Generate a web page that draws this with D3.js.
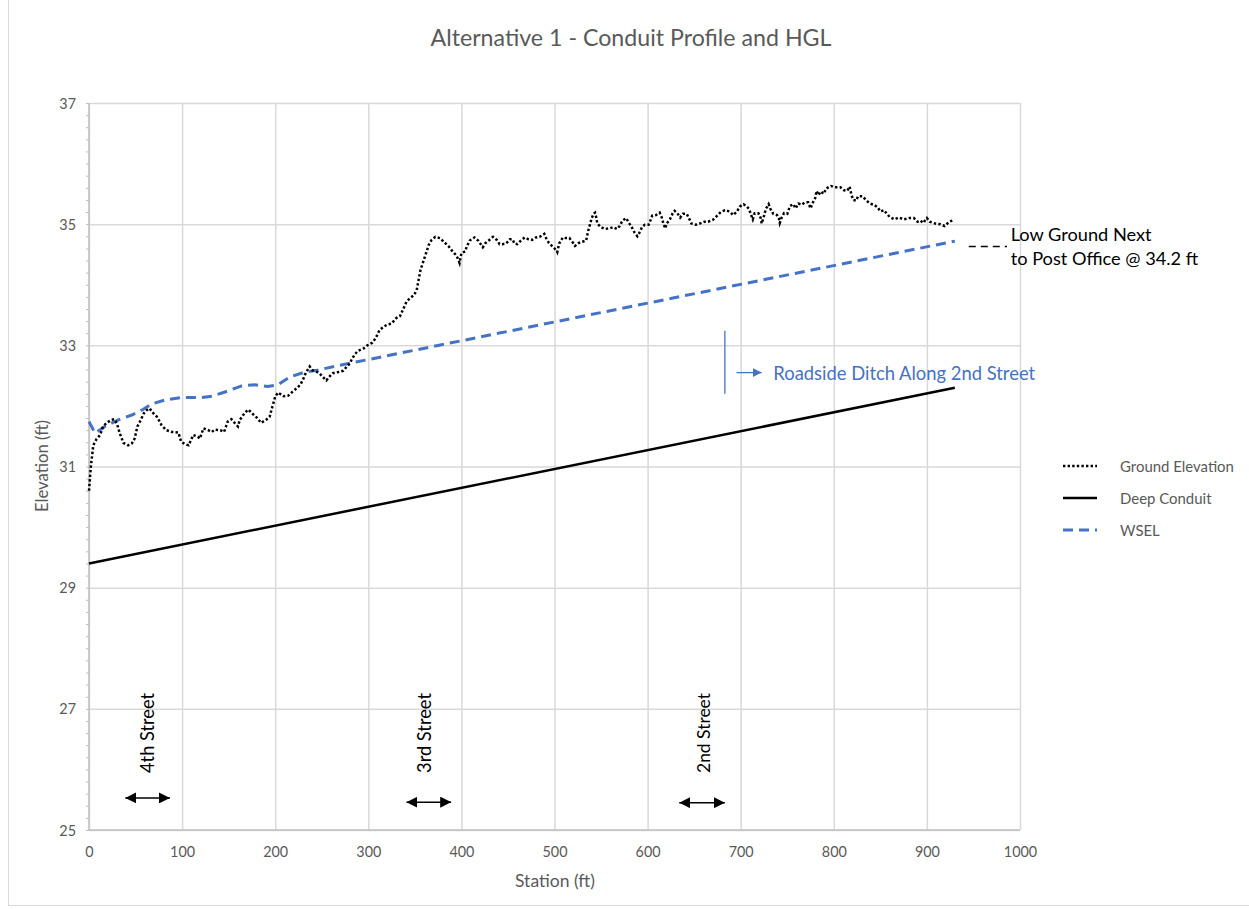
<!DOCTYPE html>
<html><head><meta charset="utf-8">
<script src="https://cdn.jsdelivr.net/npm/d3@7"></script>
<style>body{margin:0;background:#fff} svg{display:block} text{font-family:Lato,"Open Sans","Liberation Sans",sans-serif}</style>
</head><body><svg id="c" width="1249" height="909"></svg>
<script>
// ---------------- DATA ----------------
const groundStation = [0,2,4.6,8,12,15,19,24,27,30,33,37,42,46,49,52,56,59,62,65,69,73,78,83,89,96,99,103,107,110,112,117,119,123,128,132,135,141,145,149,153,157,160,162,167,171,175,180,185,191,194,197,200,203,209,214,219,223,227,230,233,237,240,245,248,251,255,258,262,268,273,277,280,283,286,289,295,299,304,308,312,316,320,325,330,334,337,341,345,349,352,354,356,359,362,365,368,372,377,381,386,390,393,396,398,400,404,406,409,414,418,423,426,430,434,438,441,444,448,452,455,457,460,464,468,472,476,480,484,489,491,494,498,502,503,505,509,512,516,520,522,526,530,534,536,538,540,542,543.5,545,546,550,554,559,563,567,570,573,577,580,583,586,589,592,594,597,601,603,605,609,613,615,617,619,620.5,624,627,629,632,635,638,642,645,647,652,656,661,665,670,674,678.5,683,688,692,696,699,703,706,709,711,713,715,719,721.5,722.5,724,727,730,732,735,739,741,742,744,746.5,750,753,756.5,759,762,765.5,769,772.5,775,777,780,781.5,783.5,786,789,792,797,801,807,811,814.5,817,819,821,824,826,831,835,839,843,847,850,854,857,860,865,870,875,881,886,890,893,896,900,903,909,914,919,924,929];
const groundElev = [30.6,31.0,31.35,31.45,31.52,31.66,31.72,31.77,31.78,31.71,31.55,31.39,31.35,31.38,31.46,31.66,31.78,31.88,31.93,31.96,31.88,31.82,31.68,31.6,31.57,31.56,31.41,31.37,31.35,31.45,31.52,31.49,31.46,31.63,31.6,31.57,31.61,31.6,31.57,31.74,31.78,31.71,31.66,31.77,31.88,31.94,31.88,31.81,31.72,31.78,31.82,31.99,32.15,32.22,32.16,32.17,32.24,32.29,32.35,32.44,32.55,32.65,32.59,32.56,32.53,32.48,32.42,32.48,32.54,32.56,32.58,32.65,32.70,32.79,32.86,32.91,32.95,33.0,33.04,33.12,33.25,33.30,33.34,33.36,33.45,33.48,33.58,33.72,33.78,33.83,33.91,34.08,34.24,34.38,34.52,34.66,34.74,34.79,34.77,34.71,34.64,34.56,34.51,34.44,34.36,34.52,34.55,34.64,34.73,34.78,34.73,34.62,34.69,34.74,34.79,34.74,34.67,34.67,34.68,34.75,34.75,34.68,34.67,34.73,34.78,34.75,34.74,34.78,34.79,34.84,34.77,34.69,34.63,34.57,34.54,34.68,34.78,34.77,34.77,34.69,34.64,34.69,34.71,34.73,34.88,34.99,35.10,35.17,35.19,35.10,35.01,34.95,34.92,34.93,34.95,34.92,34.97,35.06,35.10,35.02,34.95,34.86,34.80,34.88,34.95,34.99,34.99,35.06,35.14,35.15,35.19,35.12,35.01,34.93,35.01,35.08,35.18,35.22,35.18,35.11,35.17,35.17,35.08,35.01,34.99,35.01,35.04,35.04,35.07,35.13,35.20,35.23,35.21,35.15,35.21,35.29,35.33,35.30,35.25,35.16,35.08,35.18,35.18,35.10,35.01,35.08,35.25,35.33,35.25,35.17,35.15,35.10,35.02,35.11,35.18,35.17,35.30,35.33,35.26,35.34,35.32,35.36,35.36,35.26,35.34,35.43,35.55,35.48,35.54,35.50,35.59,35.63,35.61,35.61,35.56,35.55,35.62,35.48,35.40,35.39,35.46,35.46,35.39,35.34,35.32,35.28,35.21,35.23,35.17,35.12,35.08,35.11,35.08,35.10,35.10,35.04,35.06,35.02,35.10,35.04,35.01,35.00,34.97,35.04,35.07];
const conduitStation = [0, 930];
const conduitElev = [29.4, 32.3];
const wselStation = [0, 6.5, 17, 31.5, 46, 58, 67, 82, 99.5, 121, 132, 146, 164, 178, 192, 203, 216, 230, 245, 266, 930];
const wselElev = [31.74, 31.55, 31.66, 31.77, 31.85, 31.94, 32.03, 32.10, 32.14, 32.14, 32.16, 32.23, 32.33, 32.35, 32.32, 32.35, 32.48, 32.55, 32.59, 32.66, 34.72];
const xTicks = [0,100,200,300,400,500,600,700,800,900,1000];
const yTicks = [25,27,29,31,33,35,37];
const seriesNames = ["Ground Elevation", "Deep Conduit", "WSEL"];
const streetNames = ["4th Street", "3rd Street", "2nd Street"];
const streetLabelStation = [62, 360, 660];
const streetArrowFrom = [39, 341, 634];
const streetArrowTo = [87, 389, 683];
const streetArrowElev = [25.53, 25.46, 25.45];
const ditchText = "Roadside Ditch Along 2nd Street";
const ditchStation = 683, ditchTop = 33.24, ditchBottom = 32.20;
const ditchArrowFrom = 695.5, ditchArrowTo = 722.5, ditchArrowElev = 32.55, ditchTextStation = 735;
const lowGroundText = ["Low Ground Next", "to Post Office @ 34.2 ft"];
const lowGroundStation = [945, 986], lowGroundElev = 34.63, lowGroundTextStation = 990;
const titleText = "Alternative 1 - Conduit Profile and HGL";

// ---------------- CHART ----------------
const svg = d3.select("#c");
const BLUE = "#4472C4", GREY = "#595959", GRID = "#d9d9d9";
const x = d3.scaleLinear([0, 1000], [89, 1020]);
const y = d3.scaleLinear([25, 37], [830, 103]);

function fit(sel, w) {
  const cur = parseFloat(sel.attr("font-size"));
  const L = sel.node().getComputedTextLength();
  const s = cur * w / L;
  sel.attr("font-size", s);
  return s;
}

const defs = svg.append("defs");
function marker(id, color, size) {
  defs.append("marker").attr("id", id).attr("viewBox", "0 0 10 10")
    .attr("refX", 10).attr("refY", 5).attr("markerUnits", "userSpaceOnUse")
    .attr("markerWidth", size).attr("markerHeight", size)
    .attr("orient", "auto-start-reverse")
    .append("path").attr("d", "M0,0 L10,5 L0,10 z").attr("fill", color);
}
marker("ahK", "#000", 11);
marker("ahB", BLUE, 9);

// chart border
svg.append("rect").attr("x", 8.5).attr("y", -2).attr("width", 1245).attr("height", 907.5)
  .attr("fill", "none").attr("stroke", GRID).attr("stroke-width", 1);

// grid
const gx = svg.append("g").attr("transform", "translate(0,830)")
  .call(d3.axisBottom(x).tickValues(xTicks).tickSize(-(830 - 103)).tickFormat(""));
gx.select(".domain").remove();
gx.selectAll("line").attr("stroke", GRID).attr("stroke-width", 1.5);
const gy = svg.append("g").attr("transform", "translate(89,0)")
  .call(d3.axisLeft(y).tickValues(yTicks).tickSize(-(1020 - 89)).tickFormat(""));
gy.select(".domain").remove();
gy.selectAll("line").attr("stroke", GRID).attr("stroke-width", 1.5);

// minor y ticks
const my = svg.append("g").attr("transform", "translate(89,0)")
  .call(d3.axisLeft(y).tickValues(d3.range(25, 37.001, 0.2)).tickSize(3).tickFormat(""));
my.select(".domain").remove();
my.selectAll("line").attr("stroke", "#bfbfbf").attr("stroke-width", 1);

// axis lines
svg.append("line").attr("x1", 89).attr("x2", 89).attr("y1", 103).attr("y2", 830).attr("stroke", "#bfbfbf").attr("stroke-width", 1.5);
svg.append("line").attr("x1", 89).attr("x2", 1020).attr("y1", 830).attr("y2", 830).attr("stroke", "#bfbfbf").attr("stroke-width", 1.5);

// tick labels
const ax = svg.append("g").attr("transform", "translate(0,830)")
  .call(d3.axisBottom(x).tickValues(xTicks).tickSize(0).tickFormat(d3.format("d")));
ax.select(".domain").remove();
ax.selectAll("text").attr("y", 22).attr("dy", "0.35em").attr("fill", GREY)
  .attr("font-family", "Lato,'Open Sans',sans-serif").attr("font-size", 15);
const probe = ax.selectAll("text").filter(d => d === 100);
const tickSize = fit(probe, 25);
ax.selectAll("text").attr("font-size", tickSize);
const ay = svg.append("g").attr("transform", "translate(89,0)")
  .call(d3.axisLeft(y).tickValues(yTicks).tickSize(0).tickPadding(13).tickFormat(d3.format("d")));
ay.select(".domain").remove();
ay.selectAll("text").attr("fill", GREY).attr("font-family", "Lato,'Open Sans',sans-serif")
  .attr("font-size", tickSize).attr("dy", "0.35em");

// title & axis titles
const title = svg.append("text").attr("x", 631).attr("y", 37).attr("text-anchor", "middle")
  .attr("dominant-baseline", "central").attr("fill", GREY).attr("font-size", 22).text(titleText);
fit(title, 401);
const xt = svg.append("text").attr("x", 555).attr("y", 880).attr("text-anchor", "middle")
  .attr("dominant-baseline", "central").attr("fill", GREY).attr("font-size", 16).text("Station (ft)");
fit(xt, 80);
const yt = svg.append("text").attr("transform", "translate(42,466) rotate(-90)").attr("text-anchor", "middle")
  .attr("dominant-baseline", "central").attr("fill", GREY).attr("font-size", 16).text("Elevation (ft)");
fit(yt, 92);

// series
const line = d3.line().x(d => x(d[0])).y(d => y(d[1]));
const plot = svg.append("g");
plot.append("path").datum(d3.zip(conduitStation, conduitElev)).attr("d", line)
  .attr("fill", "none").attr("stroke", "#000").attr("stroke-width", 2.5);
plot.append("path").datum(d3.zip(wselStation, wselElev)).attr("d", line)
  .attr("fill", "none").attr("stroke", BLUE).attr("stroke-width", 3).attr("stroke-dasharray", "10,6");
plot.append("path").datum(d3.zip(groundStation, groundElev)).attr("d", line)
  .attr("fill", "none").attr("stroke", "#000").attr("stroke-width", 2.5).attr("stroke-dasharray", "2.4,2.2");

// legend
const legY = [466, 498, 530];
const legStyles = [
  {stroke: "#000", w: 2.5, dash: "2.4,2.2"},
  {stroke: "#000", w: 2.5, dash: null},
  {stroke: BLUE, w: 3, dash: "10,6"}
];
const leg = svg.append("g");
let legSize = 14;
seriesNames.forEach((n, i) => {
  leg.append("line").attr("x1", 1063).attr("x2", 1097).attr("y1", legY[i]).attr("y2", legY[i])
    .attr("stroke", legStyles[i].stroke).attr("stroke-width", legStyles[i].w)
    .attr("stroke-dasharray", legStyles[i].dash);
  const t = leg.append("text").attr("x", 1120).attr("y", legY[i]).attr("dominant-baseline", "central")
    .attr("fill", GREY).attr("font-size", legSize).text(n);
  if (i === 0) legSize = fit(t, 114);
});

// street annotations
streetNames.forEach((n, i) => {
  const t = svg.append("text")
    .attr("transform", `translate(${x(streetLabelStation[i])},733) rotate(-90)`)
    .attr("text-anchor", "middle").attr("dominant-baseline", "central")
    .attr("fill", "#000").attr("font-size", 16).text(n);
  fit(t, 80);
  svg.append("line").attr("x1", x(streetArrowFrom[i])).attr("x2", x(streetArrowTo[i]))
    .attr("y1", y(streetArrowElev[i])).attr("y2", y(streetArrowElev[i]))
    .attr("stroke", "#000").attr("stroke-width", 1.5)
    .attr("marker-start", "url(#ahK)").attr("marker-end", "url(#ahK)");
});

// roadside ditch annotation
svg.append("line").attr("x1", x(ditchStation)).attr("x2", x(ditchStation))
  .attr("y1", y(ditchTop)).attr("y2", y(ditchBottom)).attr("stroke", BLUE).attr("stroke-width", 1.3);
svg.append("line").attr("x1", x(ditchArrowFrom)).attr("x2", x(ditchArrowTo))
  .attr("y1", y(ditchArrowElev)).attr("y2", y(ditchArrowElev)).attr("stroke", BLUE).attr("stroke-width", 1.3)
  .attr("marker-end", "url(#ahB)");
const dt = svg.append("text").attr("x", x(ditchTextStation)).attr("y", y(ditchArrowElev))
  .attr("dominant-baseline", "central").attr("fill", BLUE).attr("font-size", 17).text(ditchText);
fit(dt, 262);

// low ground annotation
svg.append("line").attr("x1", x(lowGroundStation[0])).attr("x2", x(lowGroundStation[1]))
  .attr("y1", y(lowGroundElev)).attr("y2", y(lowGroundElev))
  .attr("stroke", "#000").attr("stroke-width", 1.5).attr("stroke-dasharray", "7,5");
const lg1 = svg.append("text").attr("x", x(lowGroundTextStation)).attr("y", 241)
  .attr("fill", "#000").attr("font-size", 18).text(lowGroundText[0]);
const lgSize = fit(lg1, 141);
svg.append("text").attr("x", x(lowGroundTextStation)).attr("y", 265)
  .attr("fill", "#000").attr("font-size", lgSize).text(lowGroundText[1]);
</script></body></html>
